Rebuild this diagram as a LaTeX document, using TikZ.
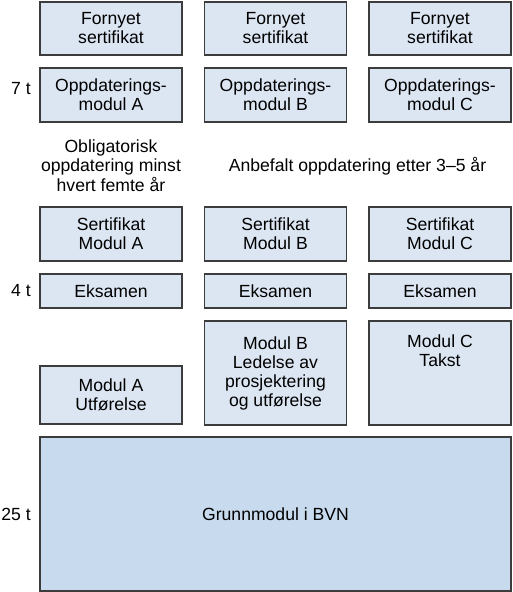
\documentclass[tikz,border=0pt]{standalone}
\usepackage{fontspec}
\setmainfont{Liberation Sans}
\definecolor{bvnlight}{RGB}{220,230,242}
\definecolor{bvnbase}{RGB}{200,218,238}
\definecolor{bvnline}{RGB}{60,60,60}

\begin{document}
\begin{tikzpicture}[x=1pt, y=-1pt,
      modbox/.style={draw=bvnline, fill=bvnlight, line width=1.2pt, minimum width=142pt, inner sep=0pt, align=center, font=\fontsize{17.6}{19}\selectfont},
      notetxt/.style={inner sep=0pt, align=center, font=\fontsize{17.6}{19.7}\selectfont},
      sidelbl/.style={inner sep=0pt, anchor=east, font=\fontsize{17.6}{19}\selectfont}
    ]
      \useasboundingbox (0,0) rectangle (513,592);

      % Renewal
      \node[modbox, minimum height=53pt] (fornA) at (111,28.5) {Fornyet\\sertifikat};
      \node[modbox, minimum height=53pt] (fornB) at (275.5,28.5) {Fornyet\\sertifikat};
      \node[modbox, minimum height=53pt] (fornC) at (440,28.5) {Fornyet\\sertifikat};

      % Update modules
      \node[modbox, minimum height=54pt] (oppdA) at (111,95) {Oppdaterings-\\modul A};
      \node[modbox, minimum height=54pt] (oppdB) at (275.5,95) {Oppdaterings-\\modul B};
      \node[modbox, minimum height=54pt] (oppdC) at (440,95) {Oppdaterings-\\modul C};

      % Notes
      \node[notetxt] (oblig) at (111,165.5) {Obligatorisk\\oppdatering minst\\hvert femte år};
      \node[notetxt] (anbef) at (357.5,166) {Anbefalt oppdatering etter 3–5 år};

      % Certificates
      \node[modbox, minimum height=54pt] (sertA) at (111,234) {Sertifikat\\Modul A};
      \node[modbox, minimum height=54pt] (sertB) at (275.5,234) {Sertifikat\\Modul B};
      \node[modbox, minimum height=54pt] (sertC) at (440,234) {Sertifikat\\Modul C};

      % Exams
      \node[modbox, minimum height=34pt] (eksA) at (111,291) {Eksamen};
      \node[modbox, minimum height=34pt] (eksB) at (275.5,291) {Eksamen};
      \node[modbox, minimum height=34pt] (eksC) at (440,291) {Eksamen};

      % Modules
      \node[modbox, minimum height=58pt] (modA) at (111,395) {Modul A\\Utførelse};
      \node[modbox, minimum height=104pt] (modB) at (275.5,373) {Modul B\\Ledelse av\\prosjektering\\og utførelse};
      \node[modbox, minimum height=104pt] (modC) at (440,373) {};
      \node[notetxt, font=\fontsize{17.6}{19}\selectfont, anchor=north] (takst) at (440,335) {Modul C\\Takst};

      % Base module
      \node[modbox, fill=bvnbase, minimum width=471pt, minimum height=154pt] (grunn) at (275.5,514) {Grunnmodul i BVN};

      % Hours
      \node[sidelbl] (t7) at (31,88.5) {7 t};
      \node[sidelbl] (t4) at (31,290.5) {4 t};
      \node[sidelbl] (t25) at (31,514) {25 t};
    \end{tikzpicture}
\end{document}
